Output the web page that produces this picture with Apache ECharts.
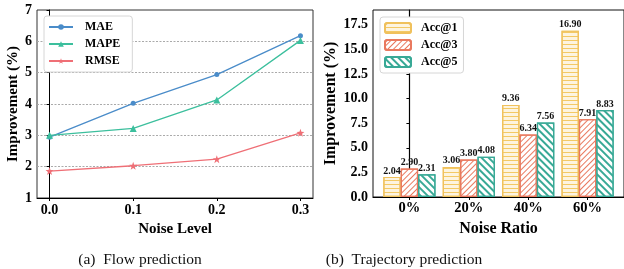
<!DOCTYPE html>
<html>
<head>
<meta charset="utf-8">
<style>
  html, body { margin: 0; padding: 0; background: #ffffff; }
  #chart { width: 624px; height: 269px; }
</style>
<script src="https://cdn.jsdelivr.net/npm/echarts@6/dist/echarts.min.js"></script>
</head>
<body>
<div id="chart"></div>
<script>
// (a) flow prediction
const noiseLevels = [0.0, 0.1, 0.2, 0.3];
const maeValues = [2.94, 4.02, 4.94, 6.18];
const mapeValues = [3.0, 3.22, 4.13, 6.03];
const rmseValues = [1.86, 2.03, 2.24, 3.08];
const flowYTicks = [1, 2, 3, 4, 5, 6, 7];

// (b) trajectory prediction
const noiseRatios = ["0%", "20%", "40%", "60%"];
const acc1Values = [2.04, 3.06, 9.36, 16.90];
const acc3Values = [2.90, 3.80, 6.34, 7.91];
const acc5Values = [2.31, 4.08, 7.56, 8.83];
const trajYTicks = [0, 2.5, 5, 7.5, 10, 12.5, 15, 17.5];

const serif = "Liberation Serif";
const boldText = { fontFamily: serif, fontWeight: "bold", color: "#000" };

function pairs(xs, ys) {
  return ys.map(function (v, i) { return [xs[i], v]; });
}

function lineSeries(name, values, color, symbol, size) {
  return {
    name: name,
    type: "line",
    xAxisIndex: 0,
    yAxisIndex: 0,
    data: pairs(noiseLevels, values),
    symbol: symbol,
    symbolSize: size,
    lineStyle: { color: color, width: 1.3 },
    itemStyle: { color: color },
  };
}

function barSeries(name, values, color, fill, decal) {
  return {
    name: name,
    type: "bar",
    xAxisIndex: 1,
    yAxisIndex: 1,
    barWidth: 17.4,
    barGap: "0%",
    data: pairs([0, 1, 2, 3], values),
    itemStyle: {
      color: fill,
      borderColor: color,
      borderWidth: 1.2,
      decal: Object.assign({ color: color, symbol: "rect", symbolSize: 1 }, decal),
    },
    label: {
      show: true,
      position: "top",
      distance: 1,
      fontSize: 10,
      fontFamily: serif,
      fontWeight: "bold",
      color: "#111",
      formatter: function (p) { return p.value[1].toFixed(2); },
    },
  };
}

const chart = echarts.init(document.getElementById("chart"), null, { renderer: "canvas" });

const option = {
  animation: false,
  backgroundColor: "#ffffff",
  title: [
    { text: "(a)  Flow prediction", left: 135, top: 247, textAlign: "center",
      textStyle: { fontFamily: serif, fontWeight: "normal", fontSize: 15.5, color: "#111" } },
    { text: "(b)  Trajectory prediction", left: 399, top: 247, textAlign: "center",
      textStyle: { fontFamily: serif, fontWeight: "normal", fontSize: 15.5, color: "#111" } },
  ],
  grid: [
    { left: 37, right: 311, top: 10, bottom: 71, show: true, borderColor: "#333", borderWidth: 1 },
    { left: 373, right: -4, top: 10, bottom: 72, show: true, borderColor: "#111", borderWidth: 1 },
  ],
  legend: [
    {
      data: ["MAE", "MAPE", "RMSE"],
      orient: "vertical",
      left: 44, top: 16,
      itemWidth: 24, itemHeight: 7, itemGap: 5,
      padding: [5, 12, 5, 4],
      backgroundColor: "#fff",
      borderColor: "#d6d6d6", borderWidth: 1, borderRadius: 3,
      textStyle: Object.assign({ fontSize: 12, padding: [0, 0, 0, 7] }, boldText),
    },
    {
      data: ["Acc@1", "Acc@3", "Acc@5"],
      orient: "vertical",
      left: 380, top: 17,
      itemWidth: 26, itemHeight: 10, itemGap: 5,
      padding: [5, 6, 5, 4],
      backgroundColor: "#fff",
      borderColor: "#d6d6d6", borderWidth: 1, borderRadius: 3,
      textStyle: Object.assign({ fontSize: 12, padding: [0, 0, 0, 5] }, boldText),
    },
  ],
  xAxis: [
    {
      gridIndex: 0, type: "value", min: -0.015, max: 0.315,
      name: "Noise Level", nameLocation: "middle", nameGap: 17,
      nameTextStyle: Object.assign({ fontSize: 15 }, boldText),
      axisLine: { show: true, lineStyle: { color: "#000", width: 1 } },
      axisTick: { show: true, customValues: noiseLevels, length: 3, lineStyle: { color: "#000" } },
      axisLabel: Object.assign({ customValues: noiseLevels, fontSize: 14, margin: 5,
        formatter: function (v) { return v.toFixed(1); } }, boldText),
      splitLine: { show: false },
    },
    {
      gridIndex: 1, type: "value", min: -0.613, max: 3.613,
      name: "Noise Ratio", nameLocation: "middle", nameGap: 16,
      nameTextStyle: Object.assign({ fontSize: 16 }, boldText),
      axisLine: { show: true, lineStyle: { color: "#000", width: 1.2 } },
      axisTick: { show: true, customValues: [0, 1, 2, 3], length: 3, lineStyle: { color: "#000" } },
      axisLabel: Object.assign({ customValues: [0, 1, 2, 3], fontSize: 14.5, margin: 4,
        formatter: function (v) { return noiseRatios[Math.round(v)]; } }, boldText),
      splitLine: { show: false },
    },
  ],
  yAxis: [
    {
      gridIndex: 0, type: "value", min: 1, max: 7, interval: 1,
      name: "Improvement (%)", nameLocation: "middle", nameGap: 15,
      nameTextStyle: Object.assign({ fontSize: 15 }, boldText),
      axisLine: { show: true, lineStyle: { color: "#000", width: 1 } },
      axisTick: { show: true, length: 3, lineStyle: { color: "#000" } },
      axisLabel: Object.assign({ customValues: flowYTicks, fontSize: 14, margin: 5 }, boldText),
      splitLine: { show: true, showMinLine: false, showMaxLine: false,
        lineStyle: { color: "#aaa", type: [2, 1.5], width: 1 } },
    },
    {
      gridIndex: 1, type: "value", min: 0, max: 19,
      name: "Improvement (%)", nameLocation: "middle", nameGap: 34,
      nameTextStyle: Object.assign({ fontSize: 16 }, boldText),
      axisLine: { show: true, lineStyle: { color: "#000", width: 1.2 } },
      axisTick: { show: true, customValues: trajYTicks, length: 3, lineStyle: { color: "#000" } },
      axisLabel: Object.assign({ customValues: trajYTicks, fontSize: 14, margin: 5,
        formatter: function (v) { return v.toFixed(1); } }, boldText),
      splitLine: { show: false },
    },
  ],
  series: [
    lineSeries("MAE", maeValues, "#4a8cc9", "circle", 5),
    lineSeries("MAPE", mapeValues, "#3cbf9d", "triangle", 7),
    lineSeries("RMSE", rmseValues, "#ef6f76", "path://M0,-10L2.35,-3.24L9.51,-3.09L3.8,1.24L5.88,8.09L0,4L-5.88,8.09L-3.8,1.24L-9.51,-3.09L-2.35,-3.24Z", 8),
    barSeries("Acc@1", acc1Values, "#f0c15c", "#fdf4e0",
      { color: "#f3c965", dashArrayX: [1, 0], dashArrayY: [0.9, 2.1], rotation: 0 }),
    barSeries("Acc@3", acc3Values, "#e9795f", "#ffffff",
      { dashArrayX: [1, 0], dashArrayY: [0.9, 2.6], rotation: -Math.PI / 4 }),
    barSeries("Acc@5", acc5Values, "#38a996", "#ffffff",
      { dashArrayX: [1, 0], dashArrayY: [1.1, 2.3], rotation: Math.PI / 4 }),
  ],
};

chart.setOption(option);
</script>
</body>
</html>
